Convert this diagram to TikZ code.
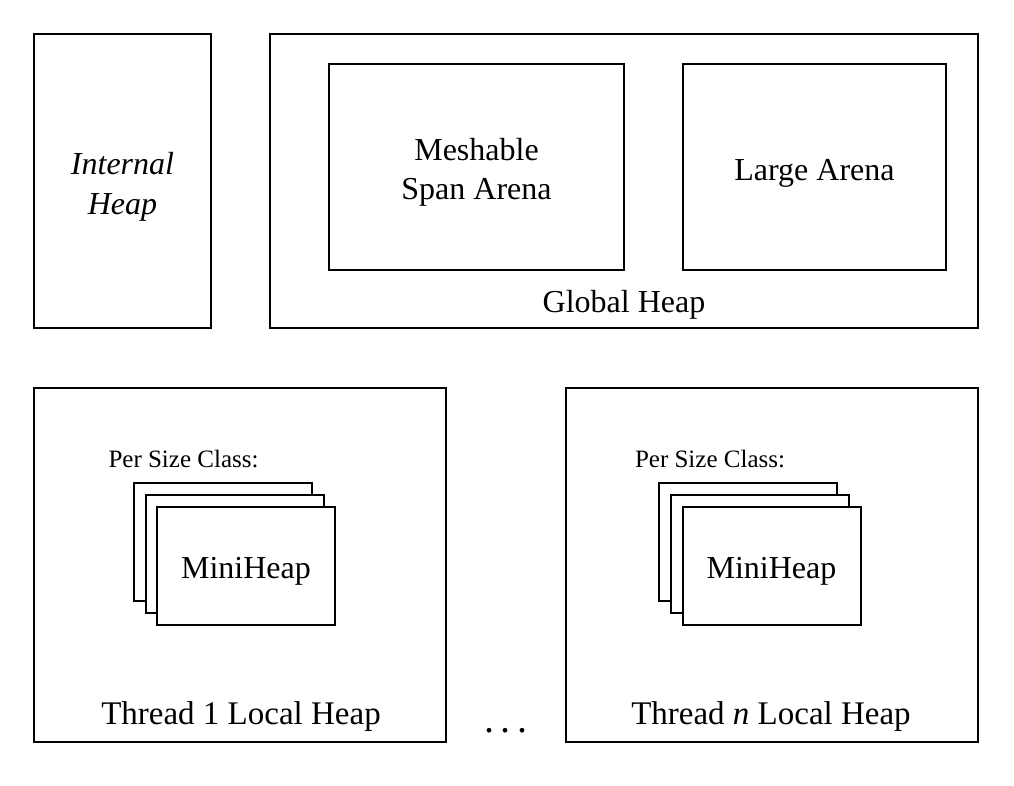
\documentclass[tikz,border=0pt]{standalone}
\usepackage{fontspec}
\setmainfont{Liberation Serif}
\begin{document}
\begin{tikzpicture}[x=1pt,y=-1pt,
  box/.style={draw=black,line width=2pt,fill=white,inner sep=0pt,outer sep=0pt},
  lbl/.style={inner sep=0pt,font=\fontsize{32}{39}\selectfont},
  biglbl/.style={inner sep=0pt,font=\fontsize{33}{39}\selectfont},
  small/.style={inner sep=0pt,font=\fontsize{25}{30}\selectfont}]
\useasboundingbox (0,0) rectangle (1014,785);
% top row
\node[box,minimum width=177,minimum height=294] (internal) at (122.5,181) {};
\node[lbl,align=center,font=\fontsize{32}{40}\selectfont\itshape] (internaltxt) at (122.5,187) {Internal\\Heap};
\node[box,minimum width=708,minimum height=294] (global) at (624,181) {};
\node[box,minimum width=295,minimum height=206] (meshable) at (476.5,167) {};
\node[lbl,align=center] (meshabletxt) at (476.5,172) {Meshable\\Span Arena};
\node[box,minimum width=263,minimum height=206] (large) at (814.5,167) {};
\node[lbl,anchor=base] (largetxt) at (814.5,180) {Large Arena};
\node[lbl,anchor=base] (globaltxt) at (624,312) {Global Heap};
% thread 1
\node[box,minimum width=412,minimum height=354] (t1) at (240,565) {};
\node[small,anchor=base] (t1psc) at (183.5,467) {Per Size Class:};
\node[box,minimum width=178,minimum height=118] (t1a) at (223,542) {};
\node[box,minimum width=178,minimum height=118] (t1b) at (234.5,553.5) {};
\node[box,minimum width=178,minimum height=118] (t1c) at (246,565.5) {};
\node[lbl,anchor=base] (t1mini) at (246,578) {MiniHeap};
\node[biglbl,anchor=base] (t1txt) at (241,724) {Thread 1 Local Heap};
% thread n
\node[box,minimum width=412,minimum height=354] (tn) at (772,565) {};
\node[small,anchor=base] (tnpsc) at (710,467) {Per Size Class:};
\node[box,minimum width=178,minimum height=118] (tna) at (748,542) {};
\node[box,minimum width=178,minimum height=118] (tnb) at (760,553.5) {};
\node[box,minimum width=178,minimum height=118] (tnc) at (772,565.5) {};
\node[lbl,anchor=base] (tnmini) at (771.5,578) {MiniHeap};
\node[biglbl,anchor=base] (tntxt) at (771,724) {Thread \textit{n} Local Heap};
% dots
\node[inner sep=0pt,anchor=base,font=\fontsize{40}{40}\selectfont] (dots) at (506,732) {.\kern6.5pt.\kern6.5pt.};
\end{tikzpicture}
\end{document}
